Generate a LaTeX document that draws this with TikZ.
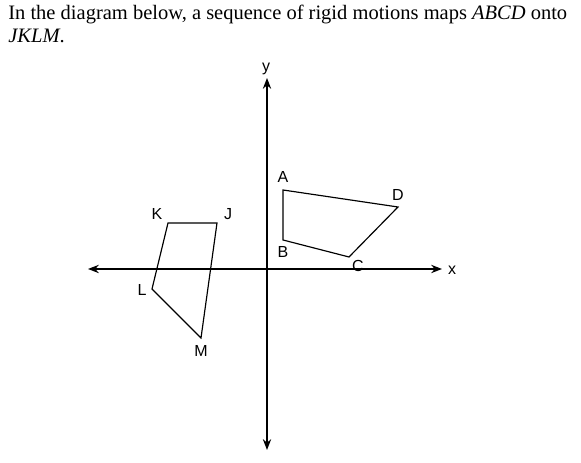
\documentclass[tikz,border=0pt]{standalone}
\usepackage{fontspec}
\setmainfont{Liberation Serif}
\newfontfamily\labelfont{Liberation Sans}
\usetikzlibrary{calc, positioning}
\usetikzlibrary{arrows.meta}

\begin{document}
\begin{tikzpicture}[x=0.6pt, y=0.6pt]
\useasboundingbox (0,0) rectangle (581,463);
\tikzset{
  axis/.style={line width=0.85pt, {Stealth[length=6.5pt, width=5pt]}-{Stealth[length=6.5pt, width=5pt]}},
  quad/.style={line width=0.7pt, line join=miter},
  vlabel/.style={font=\labelfont\fontsize{9.6}{11}\selectfont, inner sep=0pt}
}

\coordinate (O) at (267,194);
\coordinate (Xl) at (88,194);
\coordinate (Xr) at (442,194);
\coordinate (Yb) at (267,13);
\coordinate (Yt) at (267,385);

% ABCD
\coordinate (A) at (283,273);
\coordinate (B) at (283,223);
\coordinate (C) at (349,206);
\coordinate (D) at (398,256);

% JKLM
\coordinate (J) at (217,240);
\coordinate (K) at (168,240);
\coordinate (L) at (152,174);
\coordinate (M) at (201,125);

\node[anchor=base west, align=left, inner sep=0pt, font=\fontsize{12.3}{13.8}\selectfont] (title) at (8,420)
  {In the diagram below, a sequence of rigid motions maps \textit{ABCD} onto\\ \textit{JKLM}.};

\draw[axis] (Xl) -- (Xr);
\draw[axis] (Yb) -- (Yt);
\node[vlabel] (xlab) at (452,193) {x};
\node[vlabel] (ylab) at (266,394) {y};

\draw[quad] (A) -- (B) -- (C) -- (D) -- cycle;
\draw[quad] (J) -- (K) -- (L) -- (M) -- cycle;

\node[vlabel] (la) at (283,286) {A};
\node[vlabel] (lb) at (283,211) {B};
\node[vlabel] (lc) at (358,197) {C};
\node[vlabel] (ld) at (398,268) {D};
\node[vlabel] (lj) at (228,249) {J};
\node[vlabel] (lk) at (157,249) {K};
\node[vlabel] (ll) at (142,173) {L};
\node[vlabel] (lm) at (201,112) {M};
\end{tikzpicture}
\end{document}
